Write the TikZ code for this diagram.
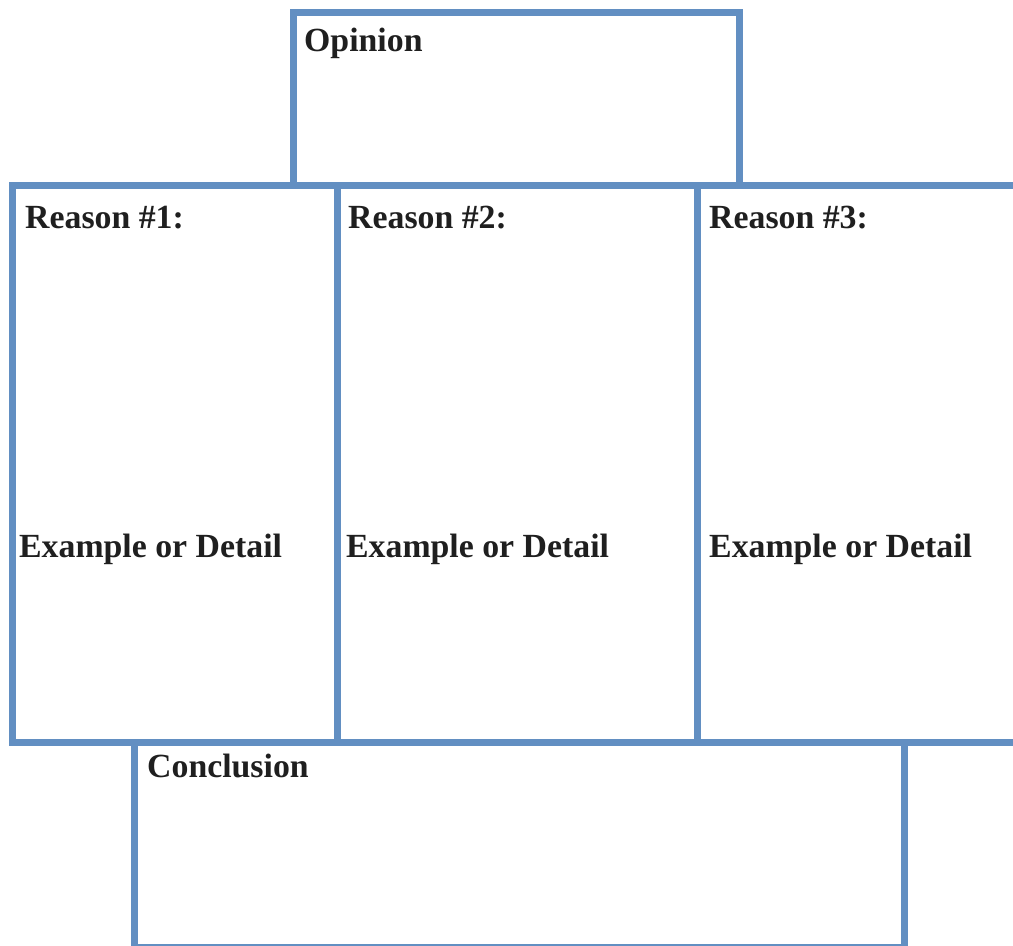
\documentclass[tikz,border=0pt]{standalone}
\usepackage{fontspec}
\setmainfont{Liberation Serif}
\definecolor{frameblue}{RGB}{98,143,194}
\tikzset{
  panel/.style={draw=frameblue, line width=7pt, rectangle, inner sep=0pt,
    outer sep=0pt, anchor=north west},
  heading/.style={anchor=base west, inner sep=0pt, text=black!88,
    font=\fontsize{33.8}{40}\selectfont\bfseries}
}
\begin{document}
\begin{tikzpicture}[x=1pt, y=-1pt]
  \useasboundingbox (0,0) rectangle (1013,946);
  \clip (0,0) rectangle (1013,946);
  \fill[white] (0,0) rectangle (1013,946);
  % frames
  \node[panel, minimum width=446pt, minimum height=173pt] (opinion) at (293,12.5) {};
  \node[panel, minimum width=325pt, minimum height=556.5pt] (reason1) at (12,185.5) {};
  \node[panel, minimum width=360pt, minimum height=556.5pt] (reason2) at (337,185.5) {};
  \node[panel, minimum width=345pt, minimum height=556.5pt] (reason3) at (697,185.5) {};
  \node[panel, minimum width=769.5pt, minimum height=205pt] (conclusion) at (134.5,742) {};
  % headings
  \node[heading] (topinion) at (304,51) {Opinion};
  \node[heading] (tr1) at (25,228) {Reason \#1:};
  \node[heading] (tr2) at (348,228) {Reason \#2:};
  \node[heading] (tr3) at (709,228) {Reason \#3:};
  \node[heading] (te1) at (19,557) {Example or Detail};
  \node[heading] (te2) at (346,557) {Example or Detail};
  \node[heading] (te3) at (709,557) {Example or Detail};
  \node[heading] (tconc) at (147,777) {Conclusion};
\end{tikzpicture}
\end{document}
